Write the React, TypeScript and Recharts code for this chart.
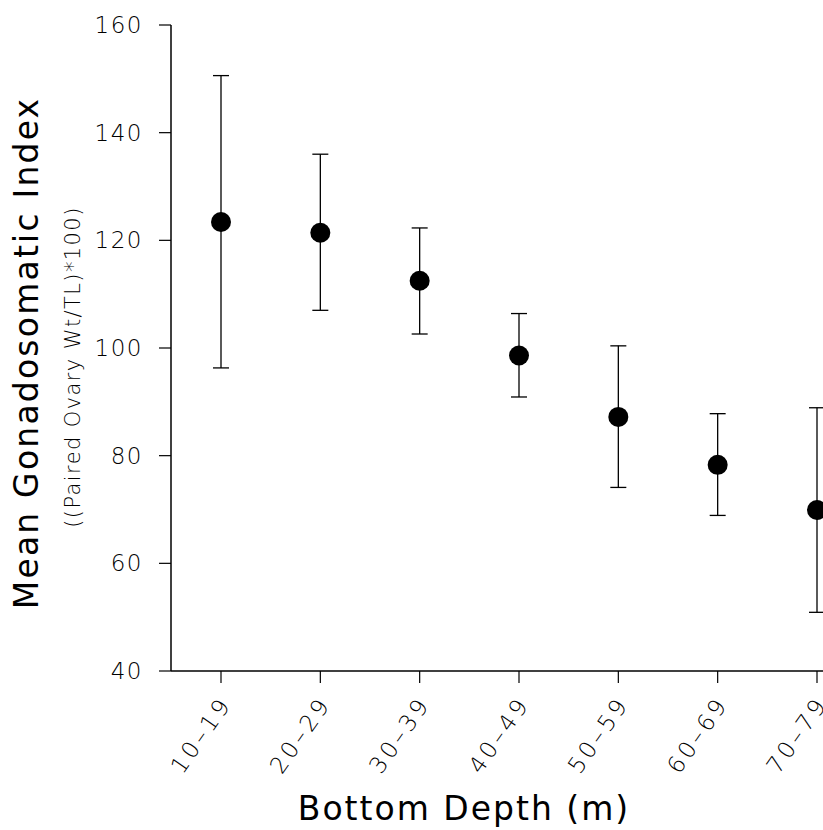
import { ComposedChart, Line, XAxis, YAxis, ErrorBar } from 'recharts';

const depths = ['10–19', '20–29', '30–39', '40–49', '50–59', '60–69', '70–79'];
const meanGsi = [123.4, 121.4, 112.5, 98.6, 87.2, 78.3, 69.9];
const upperGsi = [150.6, 136.0, 122.3, 106.4, 100.4, 87.8, 88.9];
const lowerGsi = [96.3, 107.0, 102.6, 90.9, 74.1, 68.9, 50.9];
const yTicks = [40, 60, 80, 100, 120, 140, 160];

const data = depths.map((d, i) => ({
  depth: d,
  gsi: meanGsi[i],
  err: [meanGsi[i] - lowerGsi[i], upperGsi[i] - meanGsi[i]],
}));

const FONT = '"DejaVu Sans", sans-serif';
const INK = '#000';

function DepthTick({ x, y, payload }: any) {
  return (
    <g transform={`translate(${x + 5},${y + 16})`}>
      <text
        textAnchor="end"
        dy="0.35em"
        transform="rotate(-55)"
        fontSize={23}
        fontFamily={FONT}
        fontWeight={300}
        fill={INK}
        letterSpacing={3.5}
      >
        {payload.value}
      </text>
    </g>
  );
}

export default function App() {
  return (
    <div
      style={{
        position: 'absolute',
        left: 0,
        top: 0,
        width: 823,
        height: 830,
        overflow: 'hidden',
        background: '#fff',
      }}
    >
      <ComposedChart
        width={900}
        height={830}
        data={data}
        margin={{ top: 25, right: 33, left: 0, bottom: 0 }}
      >
        <XAxis
          dataKey="depth"
          type="category"
          padding={{ left: 50, right: 50 }}
          height={159}
          tickSize={12}
          tickMargin={0}
          axisLine={{ stroke: INK, strokeWidth: 1.5 }}
          tickLine={{ stroke: INK, strokeWidth: 1.2 }}
          tick={<DepthTick />}
          interval={0}
        />
        <YAxis
          domain={[40, 160]}
          ticks={yTicks}
          width={171}
          tickSize={12}
          tickMargin={16}
          axisLine={{ stroke: INK, strokeWidth: 1.5 }}
          tickLine={{ stroke: INK, strokeWidth: 1.2 }}
          tick={{ fontSize: 23, fontFamily: FONT, fontWeight: 300, fill: INK, letterSpacing: 1.5 }}
          allowDataOverflow
        />
        <Line
          dataKey="gsi"
          stroke="none"
          isAnimationActive={false}
          activeDot={false}
          dot={{ r: 10, fill: '#000', stroke: 'none' }}
        >
          <ErrorBar dataKey="err" width={8} stroke={INK} strokeWidth={1.3} direction="y" />
        </Line>
        <text
          transform="translate(38,353) rotate(-90)"
          textAnchor="middle"
          fontSize={33}
          fontFamily={FONT}
          fill={INK}
          letterSpacing={2.2}
        >
          Mean Gonadosomatic Index
        </text>
        <text
          transform="translate(80,367) rotate(-90)"
          textAnchor="middle"
          fontSize={21}
          fontFamily={FONT}
          fontWeight={300}
          fill={INK}
          letterSpacing={1.4}
        >
          ((Paired Ovary Wt/TL)*100)
        </text>
        <text
          x={464}
          y={820}
          textAnchor="middle"
          fontSize={33}
          fontFamily={FONT}
          fill={INK}
          letterSpacing={2}
        >
          Bottom Depth (m)
        </text>
      </ComposedChart>
    </div>
  );
}
